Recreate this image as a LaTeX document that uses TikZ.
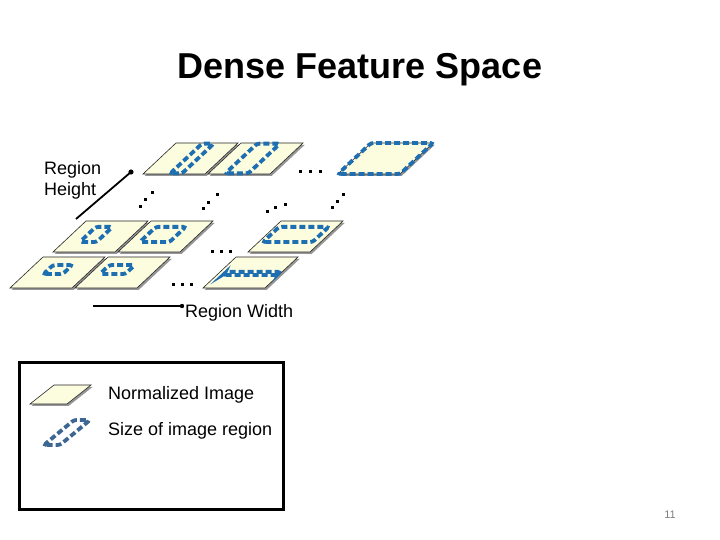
\documentclass[tikz,border=0pt]{standalone}
\usepackage{fontspec}
\setmainfont{Liberation Sans}
\usetikzlibrary{calc}
\definecolor{platefill}{RGB}{252,252,222}
\definecolor{shadowgray}{RGB}{150,150,150}
\definecolor{regblue}{RGB}{30,110,178}
\definecolor{legblue}{RGB}{62,102,146}
\definecolor{pagegray}{RGB}{128,128,128}
\tikzset{
  regionline/.style={draw=regblue, line width=3.8pt, dash pattern=on 6pt off 3pt, rounded corners=2.5pt},
  plateline/.style={fill=platefill, draw=black!85, line width=0.6pt},
  shadowfill/.style={fill=shadowgray},
  dotmark/.style={rectangle, fill=black, inner sep=0pt, minimum size=3pt},
  lbl/.style={font=\fontsize{18}{21}\selectfont, inner sep=0pt},
  arrowline/.style={draw=black, line width=1.8pt},
}
\newcommand\myplate[2]{%
  \fill[shadowfill] ({#1+1.8},{#2+1.8}) -- ++(62,0) -- ++(33,-31) -- ++(-62,0) -- cycle;
  \draw[plateline] (#1,#2) -- ++(62,0) -- ++(33,-31) -- ++(-62,0) -- cycle;}
\newcommand\myregion[6]{%
  \draw[regionline] ({#1+62*#3+33*#5},{#2-31*#5}) -- ({#1+62*#4+33*#5},{#2-31*#5}) -- ({#1+62*#4+33*#6},{#2-31*#6}) -- ({#1+62*#3+33*#6},{#2-31*#6}) -- cycle;}
\begin{document}
\begin{tikzpicture}[x=1pt,y=-1pt]
\useasboundingbox (0,0) rectangle (720,540);
% title
\node[anchor=base, inner sep=0pt, font=\bfseries\fontsize{36}{40}\selectfont] (title) at (360,79) {Dense Feature Space};
% plates row 2 (top)
\myplate{143}{174}\myplate{208}{174}\myplate{338}{174}
\myregion{143}{174}{0.43}{0.62}{0.02}{0.98}
\myregion{208}{174}{0.27}{0.64}{0.02}{0.98}
\myregion{338}{174}{0.0}{1.0}{0.0}{1.0}
% row 1
\myplate{53}{252}\myplate{118}{252}\myplate{248}{252}
\myregion{53}{252}{0.26}{0.53}{0.32}{0.81}
\myregion{118}{252}{0.18}{0.66}{0.32}{0.81}
\myregion{248}{252}{0.07}{0.87}{0.32}{0.81}
% row 0
\myplate{10}{288}\myplate{75}{288}\myplate{203}{288}
\myregion{10}{288}{0.30}{0.61}{0.45}{0.74}
\myregion{75}{288}{0.16}{0.57}{0.45}{0.74}
\myregion{203}{288}{0.10}{0.97}{0.42}{0.52}
% dots
\foreach \p [count=\i] in {(300,172),(310,172),(320,172),
  (140,207),(145,200),(152,193),
  (203,209),(208,203),(217,195),
  (267,212),(275,208),(285,205),
  (332,208),(337,202),(343,195),
  (212,251),(221,251),(230,251),
  (173,284),(182,284),(191,284)}
  \node[dotmark] (d\i) at \p {};
% Region Height
\node[lbl, anchor=base west] (rh1) at (44,175) {Region};
\node[lbl, anchor=base west] (rh2) at (44,196) {Height};
\coordinate (hA) at (76,219);
\coordinate (hB) at (131,172);
\draw[arrowline] (hA) -- (hB);
\fill (hB) circle (2.6pt);
% Region Width
\coordinate (wA) at (93,306);
\coordinate (wB) at (182,306);
\draw[arrowline, line width=1.4pt] (wA) -- (wB);
\fill (wB) circle (2.2pt);
\node[lbl, anchor=base west] (rw) at (185,317) {Region Width};
% legend
\draw[line width=3pt] (19,362) rectangle (283,509);
\fill[shadowfill] (31.8,405.8) -- ++(37,0) -- ++(24,-19) -- ++(-37,0) -- cycle;
\draw[plateline] (30,404) -- ++(37,0) -- ++(24,-19) -- ++(-37,0) -- cycle;
\draw[draw=legblue, line width=3.8pt, dash pattern=on 6pt off 3pt, rounded corners=2.5pt] (44,445) -- (60,445) -- (90,420) -- (74,420) -- cycle;
\node[lbl, anchor=base west] (ln) at (108,399) {Normalized Image};
\node[lbl, anchor=base west] (ls) at (108,435) {Size of image region};
% page number
\node[inner sep=0pt, text=pagegray, font=\fontsize{11}{13}\selectfont] (pg) at (670,515) {11};
\end{tikzpicture}
\end{document}
